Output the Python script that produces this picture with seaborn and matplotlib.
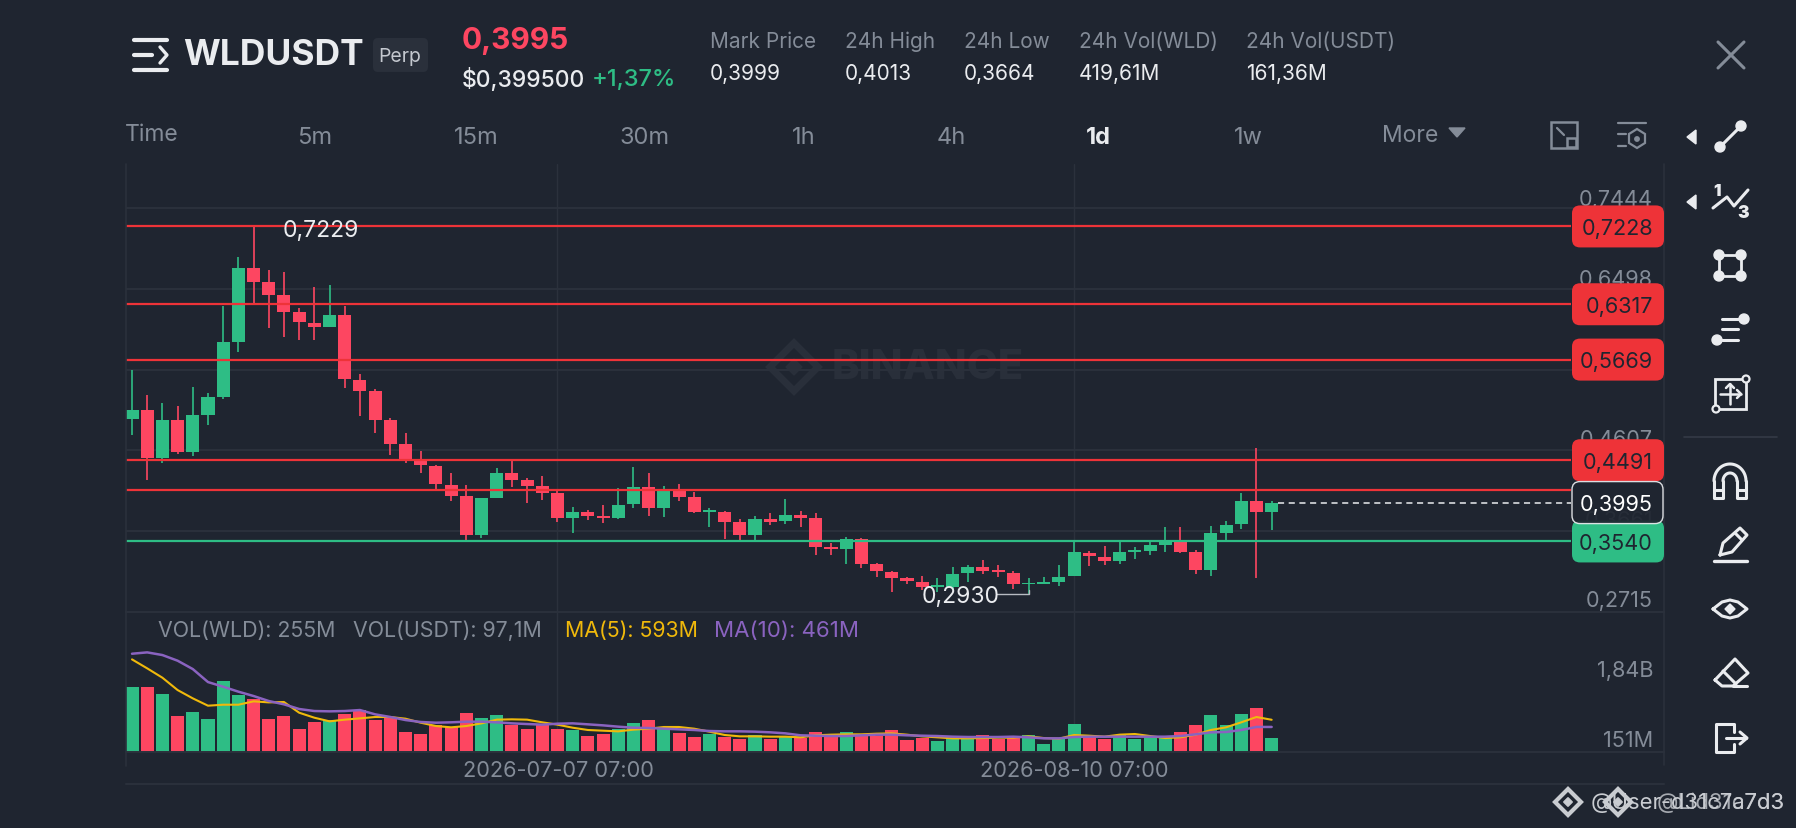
import matplotlib
matplotlib.use("Agg")
import matplotlib.pyplot as plt
import numpy as np
import pandas as pd
import seaborn as sns
from matplotlib.patches import Circle, FancyBboxPatch, Polygon, Rectangle

W, H = 1796, 828
BG = "#1F2530"
GRID = "#2B313C"
GREEN = "#2EBD85"
RED = "#FD4661"
LEVEL_RED = "#EE3338"
GREY = "#848C98"
WHITE = "#EAECEF"
YELLOW = "#F0B90B"
PURPLE = "#8A63C0"
FAINT = "#292F3A"
TEXT_DY = 2.5  # va="center" sits a little high for these labels

# daily candles
opens = [0.4976, 0.5081, 0.4512, 0.4964, 0.4582, 0.5015, 0.5232, 0.5871, 0.6743, 0.6580,
         0.6424, 0.6225, 0.6101, 0.6050, 0.6186, 0.5435, 0.5299, 0.4964, 0.4676, 0.4489,
         0.4423, 0.4205, 0.4068, 0.3621, 0.4049, 0.4341, 0.4255, 0.4185, 0.4103, 0.3815,
         0.3883, 0.3833, 0.3817, 0.3977, 0.4183, 0.3926, 0.4140, 0.4062, 0.3883, 0.3883,
         0.3763, 0.3615, 0.3805, 0.3774, 0.3852, 0.3813, 0.3471, 0.3455, 0.3564, 0.3272,
         0.3186, 0.3109, 0.3066, 0.3003, 0.3003, 0.3171, 0.3245, 0.3202, 0.3171, 0.3038,
         0.3046, 0.3062, 0.3132, 0.3408, 0.3358, 0.3307, 0.3416, 0.3424, 0.3498, 0.3529,
         0.3420, 0.3202, 0.3642, 0.3743, 0.4008, 0.3879]
closes = [0.5081, 0.4512, 0.4964, 0.4582, 0.5015, 0.5232, 0.5871, 0.6743, 0.6583, 0.6428,
          0.6229, 0.6105, 0.6054, 0.6186, 0.5439, 0.5303, 0.4964, 0.4680, 0.4497, 0.4430,
          0.4213, 0.4072, 0.3621, 0.4045, 0.4341, 0.4259, 0.4193, 0.4107, 0.3815, 0.3885,
          0.3837, 0.3813, 0.3969, 0.4183, 0.3926, 0.4132, 0.4066, 0.3883, 0.3907, 0.3766,
          0.3615, 0.3805, 0.3766, 0.3844, 0.3817, 0.3475, 0.3447, 0.3568, 0.3276, 0.3190,
          0.3109, 0.3074, 0.3003, 0.3027, 0.3163, 0.3245, 0.3198, 0.3179, 0.3038, 0.3058,
          0.3066, 0.3128, 0.3412, 0.3365, 0.3307, 0.3412, 0.3436, 0.3494, 0.3552, 0.3420,
          0.3202, 0.3634, 0.3735, 0.4008, 0.3883, 0.3995]
highs = [0.5544, 0.5252, 0.5159, 0.5120, 0.5349, 0.5279, 0.6295, 0.6868, 0.7229, 0.6720,
         0.6700, 0.6268, 0.6517, 0.6544, 0.6295, 0.5501, 0.5322, 0.4983, 0.4812, 0.4598,
         0.4438, 0.4345, 0.4201, 0.4049, 0.4399, 0.4493, 0.4283, 0.4310, 0.4127, 0.3944,
         0.3903, 0.3965, 0.4171, 0.4409, 0.4339, 0.4191, 0.4218, 0.4117, 0.3934, 0.3891,
         0.3798, 0.3833, 0.3875, 0.4035, 0.3895, 0.3868, 0.3517, 0.3591, 0.3576, 0.3284,
         0.3194, 0.3128, 0.3140, 0.3112, 0.3245, 0.3268, 0.3319, 0.3268, 0.3194, 0.3112,
         0.3120, 0.3268, 0.3541, 0.3432, 0.3486, 0.3541, 0.3475, 0.3537, 0.3712, 0.3704,
         0.3443, 0.3724, 0.3774, 0.4105, 0.4639, 0.4016]
lows = [0.4789, 0.4255, 0.4462, 0.4559, 0.4540, 0.4898, 0.5205, 0.5762, 0.6326, 0.6034,
        0.5933, 0.5898, 0.5902, 0.6050, 0.5334, 0.5011, 0.4812, 0.4547, 0.4458, 0.4341,
        0.4154, 0.4018, 0.3559, 0.3582, 0.4049, 0.4181, 0.3991, 0.4026, 0.3765, 0.3644,
        0.3786, 0.3759, 0.3802, 0.3934, 0.3840, 0.3829, 0.4016, 0.3875, 0.3712, 0.3572,
        0.3529, 0.3537, 0.3735, 0.3747, 0.3708, 0.3381, 0.3385, 0.3280, 0.3229, 0.3128,
        0.2953, 0.3038, 0.2976, 0.2945, 0.2984, 0.3066, 0.3163, 0.3128, 0.2984, 0.2930,
        0.3038, 0.3019, 0.3132, 0.3249, 0.3268, 0.3276, 0.3334, 0.3385, 0.3420, 0.3408,
        0.3155, 0.3140, 0.3545, 0.3685, 0.3116, 0.3669]

# volume in millions
volume = [1195, 1195, 1067, 662, 729, 601, 1300, 1042, 975, 613,
          656, 423, 558, 588, 699, 772, 582, 638, 374, 325,
          497, 466, 711, 619, 674, 497, 423, 497, 423, 411,
          300, 331, 423, 527, 582, 423, 343, 270, 337, 276,
          245, 319, 245, 282, 257, 374, 294, 368, 294, 294,
          411, 227, 257, 202, 257, 245, 319, 245, 270, 307,
          147, 233, 509, 294, 245, 307, 233, 270, 257, 362,
          490, 687, 490, 699, 809, 255]
ma5 = [1704, 1539, 1367, 1140, 987, 852, 870, 870, 932, 913,
       920, 723, 631, 564, 595, 619, 644, 644, 613, 539,
       478, 454, 478, 527, 595, 601, 595, 546, 503, 447,
       405, 392, 380, 411, 429, 460, 460, 429, 374, 313,
       288, 288, 282, 282, 270, 307, 319, 325, 325, 337,
       343, 319, 288, 270, 251, 251, 257, 264, 264, 288,
       257, 245, 313, 300, 282, 319, 331, 294, 257, 270,
       319, 405, 454, 546, 644, 593]
ma10 = [1808, 1833, 1784, 1680, 1526, 1287, 1201, 1110, 1030, 938,
        877, 791, 754, 748, 754, 772, 693, 644, 588, 552,
        539, 546, 558, 558, 546, 527, 515, 503, 521, 527,
        509, 490, 466, 447, 441, 429, 417, 405, 386, 380,
        380, 374, 362, 343, 307, 300, 294, 294, 307, 319,
        319, 307, 300, 294, 282, 276, 276, 276, 282, 270,
        251, 251, 276, 282, 282, 282, 282, 282, 282, 294,
        325, 362, 368, 405, 461, 461]

price_ticks = [0.7444, 0.6498, 0.5553, 0.4607, 0.3661, 0.2715]
red_levels = [0.7228, 0.6317, 0.5669, 0.4491, 0.4148]
green_level = 0.3540
last_price = 0.3995
date_ticks = [28, 62]
date_labels = ["2026-07-07 07:00", "2026-08-10 07:00"]

tabs = ["5m", "15m", "30m", "1h", "4h", "1d", "1w"]
stats = [("Mark Price", "0,3999"), ("24h High", "0,4013"), ("24h Low", "0,3664"),
         ("24h Vol(WLD)", "419,61M"), ("24h Vol(USDT)", "161,36M")]


def comma(v):
    return f"{v:.4f}".replace(".", ",")


def px_axes(fig, x0, y0, x1, y1):
    return fig.add_axes([x0 / W, 1 - y1 / H, (x1 - x0) / W, (y1 - y0) / H])


def put(ov, x, y, s, **kw):
    kw.setdefault("va", "center")
    ov.text(x, y + TEXT_DY, s, **kw)


def draw_candles(ax, df):
    colors = df["color"].tolist()
    ax.vlines(df["i"], df["low"], df["high"], colors=colors, lw=1.2, zorder=3)
    ax.bar(df["i"], (df["close"] - df["open"]).abs(), bottom=df[["open", "close"]].min(axis=1),
           width=0.86, color=colors, linewidth=0, zorder=4)


def tool_line(ov, pts, lw=2.2, color=WHITE):
    xs, ys = zip(*pts)
    ov.plot(xs, ys, color=color, lw=lw, solid_capstyle="round", solid_joinstyle="round")


def draw_toolbar(ov):
    cx = 1730
    for y in (137, 202):
        ov.add_patch(Polygon([(1696, y - 7), (1696, y + 7), (1687, y)], color=WHITE))
    # line tool
    tool_line(ov, [(cx - 10, 147), (cx + 10, 127)])
    for dx, y in ((-10, 147), (11, 126)):
        ov.add_patch(Circle((cx + dx, y), 5, color=WHITE))
    # fib
    tool_line(ov, [(1713, 208), (1727, 197), (1734, 206), (1748, 190)])
    put(ov, 1717, 189, "1", color=WHITE, fontsize=12, fontweight="black", ha="center")
    put(ov, 1743, 211, "3", color=WHITE, fontsize=12.5, fontweight="black", ha="center")
    # rectangle
    ov.add_patch(Rectangle((cx - 11, 255), 22, 21, fill=False, ec=WHITE, lw=2))
    for px, py in ((cx - 11, 255), (cx + 11, 255), (cx - 11, 276), (cx + 11, 276)):
        ov.add_patch(Circle((px, py), 5, color=WHITE))
    # lines with handles
    tool_line(ov, [(1722, 319), (1742, 319)])
    tool_line(ov, [(1722, 329), (1738, 329)])
    tool_line(ov, [(1722, 340), (1738, 340)])
    ov.add_patch(Circle((1744, 319), 5, color=WHITE))
    ov.add_patch(Circle((1717, 340), 5, color=WHITE))
    # move box
    ov.add_patch(Rectangle((1715, 379), 31, 30, fill=False, ec=WHITE, lw=2))
    tool_line(ov, [(1730, 384), (1730, 404)], lw=1.8)
    tool_line(ov, [(1720, 394), (1741, 394)], lw=1.8)
    tool_line(ov, [(1726, 388), (1730, 384), (1734, 388)], lw=1.8)
    tool_line(ov, [(1737, 390), (1741, 394), (1737, 398)], lw=1.8)
    for px, py in ((1746, 379), (1716, 409)):
        ov.add_patch(Circle((px, py), 3.5, fc=BG, ec=WHITE, lw=1.6, zorder=3))
    # separator
    ov.plot([1684, 1777], [437, 437], color="#343A46", lw=1.2)
    # magnet
    t = np.linspace(np.pi, 2 * np.pi, 40)
    tool_line(ov, list(zip(cx + 16 * np.cos(t), 481 + 17 * np.sin(t))))
    tool_line(ov, list(zip(cx + 7 * np.cos(t), 481 + 8 * np.sin(t))))
    tool_line(ov, [(cx - 16, 481), (cx - 16, 498), (cx - 7, 498), (cx - 7, 481)])
    tool_line(ov, [(cx + 16, 481), (cx + 16, 498), (cx + 7, 498), (cx + 7, 481)])
    tool_line(ov, [(cx - 16, 490), (cx - 7, 490)])
    tool_line(ov, [(cx + 16, 490), (cx + 7, 490)])
    # pencil
    tool_line(ov, [(1720, 555), (1723, 543), (1740, 528), (1747, 535), (1732, 552), (1720, 555)])
    tool_line(ov, [(1735, 533), (1742, 540)])
    tool_line(ov, [(1714, 561), (1747, 561)], lw=2.4)
    # eye
    tool_line(ov, [(cx - 17, 609), (cx - 8, 602), (cx, 600), (cx + 8, 602), (cx + 17, 609),
                   (cx + 8, 616), (cx, 618), (cx - 8, 616), (cx - 17, 609)])
    ov.add_patch(Polygon([(cx - 5, 609), (cx, 604), (cx + 5, 609), (cx, 614)], color=WHITE))
    # eraser
    tool_line(ov, [(1715, 680), (1735, 659), (1748, 673), (1733, 686), (1722, 686), (1715, 680)])
    tool_line(ov, [(1723, 671), (1736, 684)])
    tool_line(ov, [(1733, 686), (1747, 686)])
    # exit
    tool_line(ov, [(1734, 732), (1734, 724), (1716, 724), (1716, 752), (1734, 752), (1734, 744)])
    tool_line(ov, [(1726, 738), (1746, 738)])
    tool_line(ov, [(1740, 732), (1747, 738), (1740, 744)])


def draw_header(ov):
    # hamburger icon
    tool_line(ov, [(134, 40), (167, 40)], lw=3)
    tool_line(ov, [(134, 55), (152, 55)], lw=3)
    tool_line(ov, [(134, 70), (167, 70)], lw=3)
    tool_line(ov, [(160, 47), (167, 55), (160, 63)], lw=2.4)
    put(ov, 183, 53, "WLDUSDT", color=WHITE, fontsize=25.5, fontweight="bold")
    ov.add_patch(FancyBboxPatch((373, 38), 55, 34, boxstyle="round,pad=0,rounding_size=5",
                                fc="#2A303B", ec="none"))
    put(ov, 400, 54, "Perp", color="#C4C8CF", fontsize=14, ha="center")
    put(ov, 462, 38, "0,3995", color=RED, fontsize=21.5, fontweight="bold")
    put(ov, 462, 77, "$0,399500", color=WHITE, fontsize=16.5, fontweight="medium")
    put(ov, 592, 77, "+1,37%", color=GREEN, fontsize=17, fontweight="medium")
    for x, (label, value) in zip((710, 845, 964, 1079, 1246), stats):
        put(ov, x, 39, label, color=GREY, fontsize=15)
        put(ov, x, 71, value, color=WHITE, fontsize=15)
    ov.plot([1718, 1744], [42, 68], color=GREY, lw=2.2, solid_capstyle="round")
    ov.plot([1718, 1744], [68, 42], color=GREY, lw=2.2, solid_capstyle="round")

    put(ov, 125, 132, "Time", color=GREY, fontsize=16.5)
    for x, tab in zip((315, 476, 645, 804, 951, 1098, 1248), tabs):
        active = tab == "1d"
        put(ov, x, 135, tab, color=WHITE if active else GREY, fontsize=17, ha="center",
            fontweight="bold" if active else "normal")
    put(ov, 1382, 133, "More", color=GREY, fontsize=16.5)
    ov.add_patch(Polygon([(1449, 128), (1465, 128), (1457, 137)], color=GREY))
    # the two small icons at the end of the tabs
    ov.add_patch(Rectangle((1551, 122), 26, 26, fill=False, ec=GREY, lw=1.8))
    ov.add_patch(Rectangle((1567, 138), 9, 9, fc=BG, ec=GREY, lw=1.8, zorder=3))
    ov.plot([1557, 1564], [128, 135], color=GREY, lw=1.6)
    ov.plot([1618, 1646], [123, 123], color=GREY, lw=1.6)
    ov.plot([1618, 1626], [134, 134], color=GREY, lw=1.6)
    ov.plot([1618, 1626], [146, 146], color=GREY, lw=1.6)
    ov.add_patch(Polygon([(1637, 129), (1645, 134), (1645, 143), (1637, 148), (1629, 143), (1629, 134)],
                         fill=False, ec=GREY, lw=1.6))
    ov.add_patch(Circle((1637, 139), 2.2, color=GREY))


def diamond(ov, x, y, size, color, lw=2.2):
    ov.add_patch(Polygon([(x - size, y), (x, y - size), (x + size, y), (x, y + size)],
                         fill=False, ec=color, lw=lw))
    ov.add_patch(Polygon([(x - size / 3, y), (x, y - size / 3), (x + size / 3, y), (x, y + size / 3)],
                         color=color))


def main():
    sns.set_theme(style="dark")
    plt.rcParams["font.family"] = ["Inter", "DejaVu Sans"]
    plt.rcParams["axes.facecolor"] = BG
    plt.rcParams["figure.facecolor"] = BG

    n = len(opens)
    df = pd.DataFrame({"i": np.arange(n), "open": opens, "close": closes, "high": highs, "low": lows,
                       "volume": volume, "ma5": ma5, "ma10": ma10})
    df["up"] = df["close"] >= df["open"]
    df["color"] = np.where(df["up"], GREEN, RED)

    # the small extra keeps the canvas at 828 rows, 8.28 * 100 truncates to 827
    fig = plt.figure(figsize=(W / 100, (H + 0.01) / 100), dpi=100, facecolor=BG)

    ov_back = fig.add_axes([0, 0, 1, 1], facecolor="none")
    ov_back.set_xlim(0, W)
    ov_back.set_ylim(H, 0)
    ov_back.axis("off")
    diamond(ov_back, 794, 367, 24, FAINT, lw=5)
    put(ov_back, 832, 365, "BINANCE", color=FAINT, fontsize=30, fontweight="heavy")

    ax = px_axes(fig, 126, 164, 1664, 612)
    vol_ax = px_axes(fig, 126, 612, 1664, 752)
    xlim = (-0.395, 100.82)

    for a in (ax, vol_ax):
        a.set_facecolor("none")
        a.set_xlim(xlim)
        for side in a.spines.values():
            side.set_visible(False)
        a.set_xticks([])
        a.set_yticks([])
        for t in date_ticks:
            a.axvline(t, color=GRID, lw=1, zorder=1)

    # price pane
    ax.set_ylim(0.2714, 0.7959)
    for p in price_ticks:
        ax.axhline(p, color=GRID, lw=1.4, zorder=1)
    draw_candles(ax, df)
    for p in red_levels:
        ax.hlines(p, xlim[0], 94.7, color=LEVEL_RED, lw=1.6, zorder=5)
    ax.hlines(green_level, xlim[0], 94.7, color=GREEN, lw=1.6, zorder=5)
    ax.hlines(last_price, n - 0.6, 94.7, color=WHITE, lw=1.1, linestyles=(0, (4, 3)), zorder=5)
    low_i = int(np.argmin(lows))
    ax.plot([low_i - 2.1, low_i, low_i], [lows[low_i], lows[low_i], lows[low_i] + 0.004],
            color="#B7BBC2", lw=1, zorder=6)
    ax.annotate(comma(max(highs)), (12.4, max(highs)), xytext=(0, -3.2), textcoords="offset points",
                color=WHITE, fontsize=16.5, ha="center", va="center", zorder=7)
    ax.annotate(comma(lows[low_i]), (54.5, lows[low_i]), xytext=(0, -2.5), textcoords="offset points",
                color=WHITE, fontsize=16.5, ha="center", va="center", zorder=7)

    # volume pane
    vol_ax.set_ylim(0, 2576)
    sns.barplot(data=df, x="i", y="volume", hue="up", palette={True: GREEN, False: RED}, dodge=False,
                native_scale=True, width=0.86, saturation=1, legend=False, linewidth=0, ax=vol_ax, zorder=3)
    sns.lineplot(data=df, x="i", y="ma5", color=YELLOW, lw=1.5, ax=vol_ax, zorder=4)
    sns.lineplot(data=df, x="i", y="ma10", color=PURPLE, lw=1.8, ax=vol_ax, zorder=5)
    vol_ax.set_xlim(xlim)
    vol_ax.set_xlabel("")
    vol_ax.set_ylabel("")
    vol_ax.set_xticks([])
    vol_ax.set_yticks([])

    # everything around the panes, in picture pixels
    ov = fig.add_axes([0, 0, 1, 1], facecolor="none")
    ov.set_xlim(0, W)
    ov.set_ylim(H, 0)
    ov.axis("off")

    ov.plot([126, 126], [164, 766], color=GRID, lw=1.2)
    ov.plot([1664, 1664], [164, 765], color=GRID, lw=1.2)
    ov.plot([126, 1664], [612, 612], color=GRID, lw=1.4)
    ov.plot([126, 1664], [752, 752], color=GRID, lw=1.4)
    ov.plot([126, 1664], [784, 784], color=GRID, lw=1.4)

    for p, y in zip(price_ticks, (197, 277, 358, 437, 518, 598)):
        put(ov, 1653, y, comma(p), color=GREY, fontsize=15.6, ha="right")
    put(ov, 1653, 668, "1,84B", color=GREY, fontsize=15.6, ha="right")
    put(ov, 1653, 738, "151M", color=GREY, fontsize=15.6, ha="right")

    for x, label in zip((558, 1074), date_labels):
        put(ov, x, 768, label, color=GREY, fontsize=15.7, ha="center")

    put(ov, 158, 628, "VOL(WLD): 255M", color=GREY, fontsize=15.4)
    put(ov, 353, 628, "VOL(USDT): 97,1M", color=GREY, fontsize=15.4)
    put(ov, 565, 628, "MA(5): 593M", color=YELLOW, fontsize=15.4)
    put(ov, 714, 628, "MA(10): 461M", color=PURPLE, fontsize=16)

    # price tags
    to_y = lambda p: ov.transData.inverted().transform(ax.transData.transform((0, p)))[1]
    for p, tag in zip(red_levels[:4], ("0,7228", "0,6317", "0,5669", "0,4491")):
        y = to_y(p)
        ov.add_patch(FancyBboxPatch((1572, y - 21), 92, 42, boxstyle="round,pad=0,rounding_size=8",
                                    fc=LEVEL_RED, ec="none", zorder=8))
        put(ov, 1653, y, tag, color=BG, fontsize=15.6, ha="right", zorder=9)
    y = to_y(green_level)
    ov.add_patch(FancyBboxPatch((1572, y - 21), 92, 42, boxstyle="round,pad=0,rounding_size=8",
                                fc=GREEN, ec="none", zorder=8))
    put(ov, 1653, y, comma(green_level), color=BG, fontsize=15.6, ha="right", zorder=9)
    y = to_y(last_price)
    ov.add_patch(FancyBboxPatch((1572, y - 21), 91, 42, boxstyle="round,pad=0,rounding_size=8",
                                fc=BG, ec=WHITE, lw=1, alpha=0.93, zorder=10))
    put(ov, 1653, y, comma(last_price), color="white", fontsize=15.6, ha="right", zorder=11)

    draw_header(ov)
    draw_toolbar(ov)

    # watermark, printed twice on the screenshot
    diamond(ov, 1568, 802, 13, "#C9CCD1", lw=3)
    diamond(ov, 1618, 802, 13, "#C9CCD1", lw=3)
    put(ov, 1785, 800, "@User-d31c7a7d3", color="#C9CCD1", fontsize=15.9, ha="right")
    put(ov, 1785, 800, "@Lid31c7d3", color="#C9CCD1", fontsize=15.9, ha="right", alpha=0.8)

    fig.savefig("out.png", dpi=100, facecolor=BG)


if __name__ == "__main__":
    main()
